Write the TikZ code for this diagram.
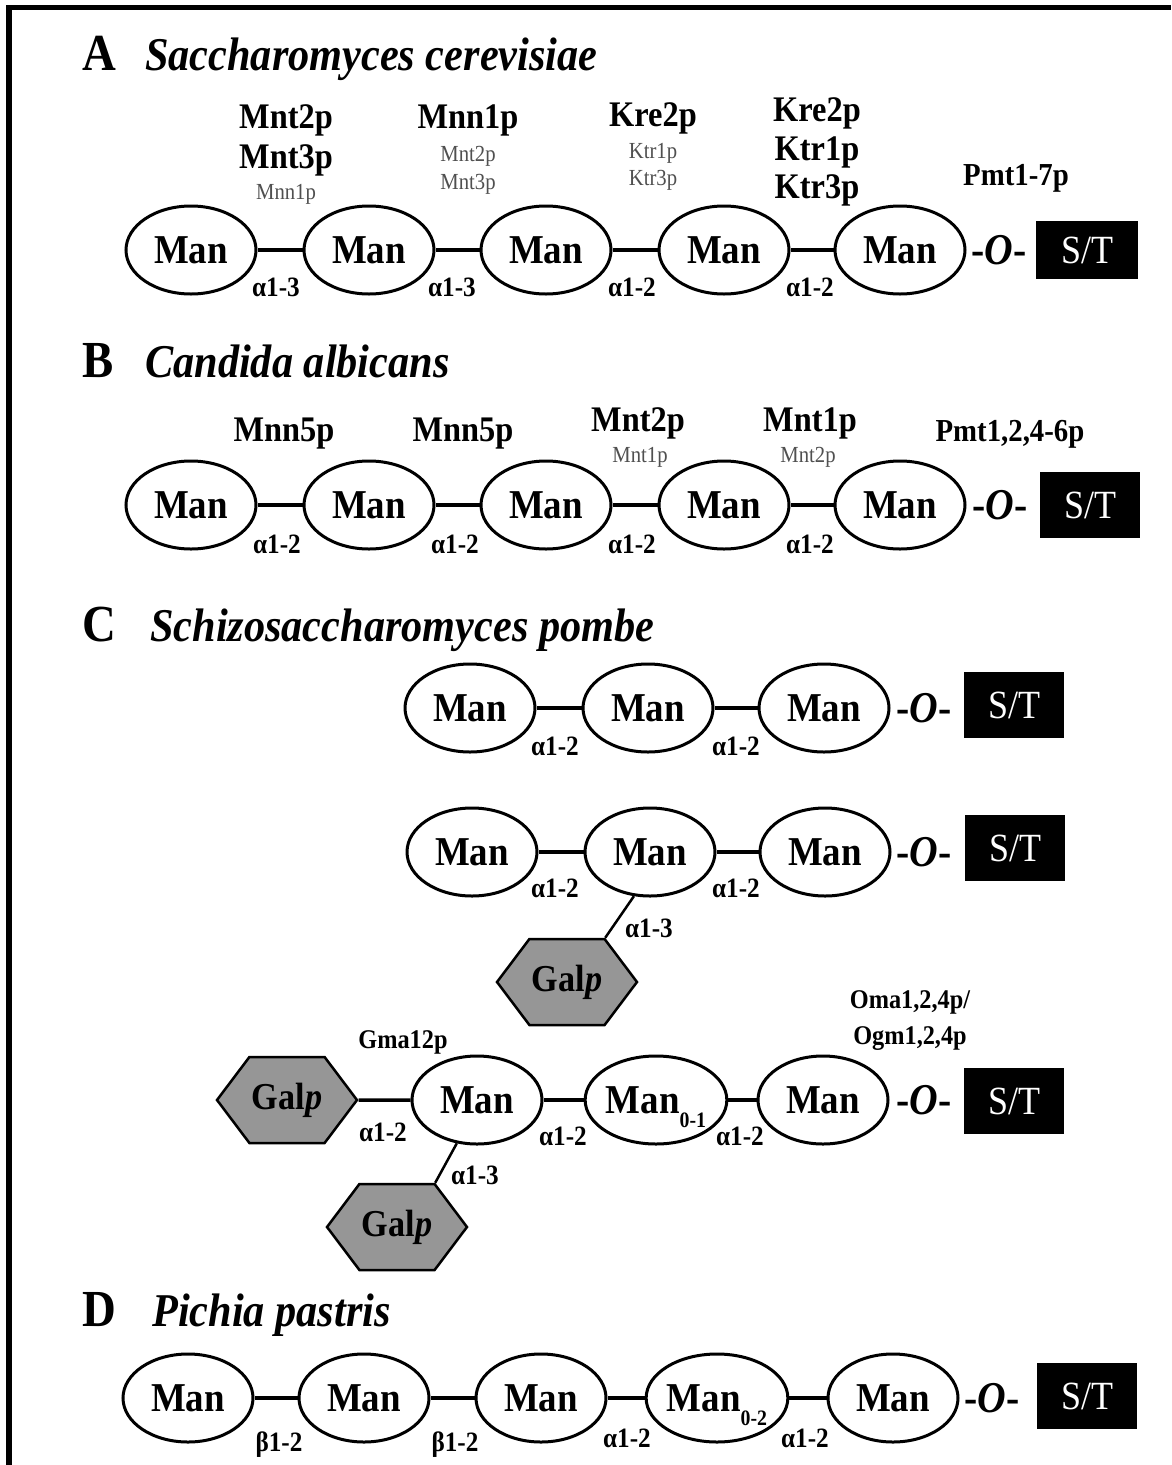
\documentclass[tikz,border=0pt]{standalone}
\usepackage{fontspec}
\setmainfont[FakeStretch=0.9]{Liberation Serif}
\usetikzlibrary{shapes.geometric,shapes.symbols}
\definecolor{galgray}{RGB}{150,150,150}
\definecolor{minor}{RGB}{80,80,80}
\newcommand{\subidx}[1]{\raisebox{-0.35em}[0pt][0pt]{\fontsize{22}{24}\selectfont #1}}
\begin{document}
\begin{tikzpicture}[x=1pt,y=-1pt,
 man/.style={ellipse, draw, line width=3pt, minimum width=130pt, minimum height=88pt, inner sep=0pt, font=\fontsize{41}{44}\selectfont\bfseries},
 gal/.style={signal, signal to=east and west, signal pointer angle=106, draw, line width=2.5pt, fill=galgray, minimum width=140pt, minimum height=86pt, inner sep=0pt, font=\fontsize{38}{40}\selectfont\bfseries},
 st/.style={fill=black, text=white, minimum width=100pt, minimum height=66pt, inner sep=0pt, font=\fontsize{40}{44}\selectfont},
 link/.style={line width=3.5pt},
 lnk/.style={anchor=base, inner sep=0pt, font=\fontsize{28}{30}\selectfont\bfseries},
 enz/.style={anchor=base, inner sep=0pt, font=\fontsize{36}{38}\selectfont\bfseries},
 enzm/.style={anchor=base, inner sep=0pt, font=\fontsize{27}{30}\selectfont\bfseries},
 enzs/.style={anchor=base, inner sep=0pt, text=minor, font=\fontsize{23}{25}\selectfont},
 oo/.style={inner sep=0pt, font=\fontsize{44}{46}\selectfont\bfseries},
 lett/.style={anchor=base west, inner sep=0pt, font=\fontsize{52}{54}\selectfont\bfseries},
 spec/.style={anchor=base west, inner sep=0pt, font=\fontsize{47}{50}\selectfont\bfseries\itshape},
]
\useasboundingbox (0,0) rectangle (1171,1465);
\fill[white] (0,0) rectangle (1171,1465);
% frame
\coordinate (ftl) at (9,7.5);
\coordinate (ftr) at (1171,7.5);
\coordinate (fbl) at (9,1465);
\draw[line width=5.5pt] (fbl) -- (ftl) -- (ftr);

% ---------------- A
\node[lett] (tA) at (82,70) {A};
\node[spec] (sA) at (145,70) {Saccharomyces cerevisiae};
\node[man] (a1) at (191,250) {Man};
\node[man] (a2) at (369,250) {Man};
\node[man] (a3) at (546,250) {Man};
\node[man] (a4) at (724,250) {Man};
\node[man] (a5) at (900,250) {Man};
\node[oo] (ao) at (999,250) {-\textit{O}-};
\node[st, minimum height=58pt, minimum width=102pt] (ast) at (1087,250) {S/T};
\draw[link] (a1) -- (a2);
\draw[link] (a2) -- (a3);
\draw[link] (a3) -- (a4);
\draw[link] (a4) -- (a5);
\node[lnk] (la1) at (276,296) {α1-3};
\node[lnk] (la2) at (452,296) {α1-3};
\node[lnk] (la3) at (632,296) {α1-2};
\node[lnk] (la4) at (810,296) {α1-2};
\node[enz] (ea1) at (286,128) {Mnt2p};
\node[enz] (ea2) at (286,168) {Mnt3p};
\node[enzs] (ea3) at (286,199) {Mnn1p};
\node[enz] (eb1) at (468,128) {Mnn1p};
\node[enzs] (eb2) at (468,161) {Mnt2p};
\node[enzs] (eb3) at (468,189) {Mnt3p};
\node[enz] (ec1) at (653,126) {Kre2p};
\node[enzs] (ec2) at (653,158) {Ktr1p};
\node[enzs] (ec3) at (653,185) {Ktr3p};
\node[enz] (ed1) at (817,121) {Kre2p};
\node[enz] (ed2) at (817,160) {Ktr1p};
\node[enz] (ed3) at (817,198) {Ktr3p};
\node[enz, font=\fontsize{32}{34}\selectfont\bfseries] (ee1) at (1016,185) {Pmt1-7p};

% ---------------- B
\node[lett] (tB) at (82,377) {B};
\node[spec] (sB) at (145,377) {Candida albicans};
\node[man] (b1) at (191,505) {Man};
\node[man] (b2) at (369,505) {Man};
\node[man] (b3) at (546,505) {Man};
\node[man] (b4) at (724,505) {Man};
\node[man] (b5) at (900,505) {Man};
\node[oo] (bo) at (1000,505) {-\textit{O}-};
\node[st] (bst) at (1090,505) {S/T};
\draw[link] (b1) -- (b2);
\draw[link] (b2) -- (b3);
\draw[link] (b3) -- (b4);
\draw[link] (b4) -- (b5);
\node[lnk] (lb1) at (277,553) {α1-2};
\node[lnk] (lb2) at (455,553) {α1-2};
\node[lnk] (lb3) at (632,553) {α1-2};
\node[lnk] (lb4) at (810,553) {α1-2};
\node[enz] (fb1) at (284,441) {Mnn5p};
\node[enz] (fb2) at (463,441) {Mnn5p};
\node[enz] (fb3) at (638,431) {Mnt2p};
\node[enzs] (fb4) at (640,462) {Mnt1p};
\node[enz] (fb5) at (810,431) {Mnt1p};
\node[enzs] (fb6) at (808,462) {Mnt2p};
\node[enz, font=\fontsize{32}{34}\selectfont\bfseries] (fb7) at (1010,441) {Pmt1,2,4-6p};

% ---------------- C
\node[lett] (tC) at (82,641) {C};
\node[spec] (sC) at (150,641) {Schizosaccharomyces pombe};
% C1
\node[man] (c11) at (470,708) {Man};
\node[man] (c12) at (648,708) {Man};
\node[man] (c13) at (824,708) {Man};
\node[oo] (c1o) at (924,708) {-\textit{O}-};
\node[st] (c1st) at (1014,705) {S/T};
\draw[link] (c11) -- (c12);
\draw[link] (c12) -- (c13);
\node[lnk] (lc11) at (555,755) {α1-2};
\node[lnk] (lc12) at (736,755) {α1-2};
% C2
\node[man] (c21) at (472,852) {Man};
\node[man] (c22) at (650,852) {Man};
\node[man] (c23) at (825,852) {Man};
\node[oo] (c2o) at (924,852) {-\textit{O}-};
\node[st] (c2st) at (1015,848) {S/T};
\node[gal] (g2) at (567,982) {Gal\textit{p}};
\draw[link] (c21) -- (c22);
\draw[link] (c22) -- (c23);
\draw[line width=2.5pt] (c22.-110) -- (g2.north east);
\node[lnk] (lc21) at (555,897) {α1-2};
\node[lnk] (lc22) at (736,897) {α1-2};
\node[lnk] (lc23) at (649,937) {α1-3};
% C3
\node[gal] (g3a) at (287,1100) {Gal\textit{p}};
\node[man] (c31) at (477,1100) {Man};
\node[man] (c32) at (656,1100) {Man\subidx{0-1}};
\node[man] (c33) at (823,1100) {Man};
\node[oo] (c3o) at (924,1100) {-\textit{O}-};
\node[st] (c3st) at (1014,1101) {S/T};
\node[gal] (g3b) at (397,1227) {Gal\textit{p}};
\draw[link] (g3a) -- (c31);
\draw[link] (c31) -- (c32);
\draw[link] (c32) -- (c33);
\draw[line width=2.5pt] (c31.-115) -- (g3b.north east);
\node[lnk] (lc31) at (383,1141) {α1-2};
\node[lnk] (lc32) at (563,1145) {α1-2};
\node[lnk] (lc33) at (740,1145) {α1-2};
\node[lnk] (lc34) at (475,1184) {α1-3};
\node[enzm] (gc1) at (403,1048) {Gma12p};
\node[enzm] (gc2) at (910,1008) {Oma1,2,4p/};
\node[enzm] (gc3) at (910,1044) {Ogm1,2,4p};

% ---------------- D
\node[lett] (tD) at (82,1326) {D};
\node[spec] (sD) at (152,1326) {Pichia pastris};
\node[man] (d1) at (188,1398) {Man};
\node[man] (d2) at (364,1398) {Man};
\node[man] (d3) at (541,1398) {Man};
\node[man] (d4) at (717,1398) {Man\subidx{0-2}};
\node[man] (d5) at (893,1398) {Man};
\node[oo] (do) at (992,1398) {-\textit{O}-};
\node[st] (dst) at (1087,1396) {S/T};
\draw[link] (d1) -- (d2);
\draw[link] (d2) -- (d3);
\draw[link] (d3) -- (d4);
\draw[link] (d4) -- (d5);
\node[lnk] (ld1) at (279,1451) {β1-2};
\node[lnk] (ld2) at (455,1451) {β1-2};
\node[lnk] (ld3) at (627,1447) {α1-2};
\node[lnk] (ld4) at (805,1447) {α1-2};
\end{tikzpicture}
\end{document}
